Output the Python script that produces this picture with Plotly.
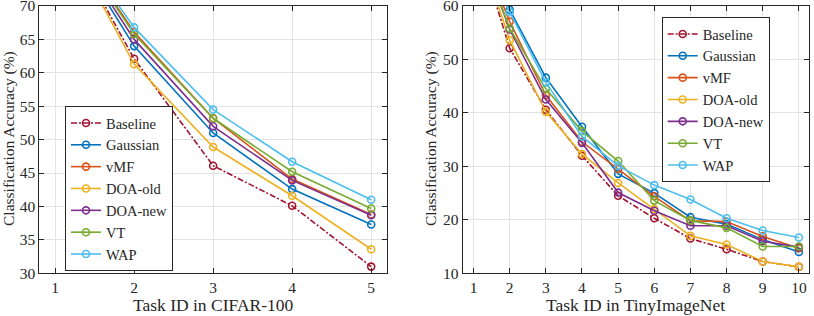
import plotly.graph_objects as go

# ---------------- data ----------------
methods = ["Baseline", "Gaussian", "vMF", "DOA-old", "DOA-new", "VT", "WAP"]
colors = ["#A2142F", "#0072BD", "#D95319", "#EDB120", "#7E2F8E", "#77AC30", "#4DBEEE"]

cifar_tasks = [1, 2, 3, 4, 5]
cifar_baseline = [83.5, 62.1, 46.1, 40.1, 31.0]
cifar_gaussian = [83.0, 64.0, 51.0, 42.6, 37.3]
cifar_vmf = [83.5, 66.1, 53.2, 44.1, 38.8]
cifar_doa_old = [83.3, 61.3, 48.9, 41.6, 33.6]
cifar_doa_new = [83.2, 65.0, 52.0, 43.9, 38.7]
cifar_vt = [83.5, 65.8, 53.2, 45.2, 39.7]
cifar_wap = [83.5, 66.8, 54.5, 46.7, 41.0]

tiny_tasks = [1, 2, 3, 4, 5, 6, 7, 8, 9, 10]
tiny_baseline = [74.0, 52.1, 40.6, 32.0, 24.5, 20.3, 16.5, 14.5, 12.2, 11.2]
tiny_gaussian = [74.0, 59.3, 46.6, 37.4, 28.6, 25.0, 20.5, 19.2, 16.3, 14.0]
tiny_vmf = [74.0, 57.1, 43.3, 34.6, 29.5, 24.4, 19.8, 19.7, 16.9, 14.7]
tiny_doa_old = [74.0, 53.6, 40.2, 32.3, 26.9, 22.0, 17.0, 15.4, 12.2, 11.2]
tiny_doa_new = [74.0, 55.6, 42.5, 34.4, 25.1, 21.7, 18.9, 18.9, 16.0, 14.9]
tiny_vt = [74.0, 55.8, 44.5, 36.6, 31.0, 23.6, 19.9, 18.5, 15.0, 15.0]
tiny_wap = [74.0, 58.9, 45.7, 35.6, 30.1, 26.5, 23.8, 20.3, 18.0, 16.7]

cifar_series = [cifar_baseline, cifar_gaussian, cifar_vmf, cifar_doa_old,
                cifar_doa_new, cifar_vt, cifar_wap]
tiny_series = [tiny_baseline, tiny_gaussian, tiny_vmf, tiny_doa_old,
               tiny_doa_new, tiny_vt, tiny_wap]

FONT = "Liberation Serif"
INK = "#262626"
fig = go.Figure()

for i, name in enumerate(methods):
    dash = "6px,2px,2px,2px" if name == "Baseline" else "solid"
    fig.add_trace(go.Scatter(
        x=cifar_tasks, y=cifar_series[i], name=name, mode="lines+markers",
        line=dict(color=colors[i], width=1.6, dash=dash),
        marker=dict(symbol="circle-open", size=7, color=colors[i], line=dict(width=1.6)),
        xaxis="x", yaxis="y", legend="legend"))
for i, name in enumerate(methods):
    dash = "6px,2px,2px,2px" if name == "Baseline" else "solid"
    fig.add_trace(go.Scatter(
        x=tiny_tasks, y=tiny_series[i], name=name, mode="lines+markers",
        line=dict(color=colors[i], width=1.6, dash=dash),
        marker=dict(symbol="circle-open", size=7, color=colors[i], line=dict(width=1.6)),
        xaxis="x2", yaxis="y2", legend="legend2"))

W, H = 814, 316
ax_common = dict(
    showline=True, linecolor=INK, linewidth=1, mirror="allticks",
    ticks="inside", ticklen=5, tickcolor=INK, tickwidth=1,
    showgrid=True, gridcolor="#E3E3E3", gridwidth=1, zeroline=False,
    tickfont=dict(family=FONT, size=15.5, color=INK), automargin=False,
    ticklabeloverflow="allow",
)
y0 = (H - 273.3) / H
y1 = (H - 6) / H
leg_font = dict(family=FONT, size=14.5, color=INK)

fig.update_layout(
    width=W, height=H, margin=dict(l=0, r=0, t=0, b=0),
    paper_bgcolor="white", plot_bgcolor="white",
    font=dict(family=FONT, size=16, color=INK),
    xaxis=dict(domain=[39.3 / W, 387 / W], range=[0.8, 5.2], tickvals=cifar_tasks,
               anchor="y", **ax_common),
    yaxis=dict(domain=[y0, y1], range=[30, 70], tickvals=[30, 35, 40, 45, 50, 55, 60, 65, 70],
               anchor="x", **ax_common),
    xaxis2=dict(domain=[462.7 / W, 809 / W], range=[0.7, 10.28], tickvals=tiny_tasks,
                anchor="y2", **ax_common),
    yaxis2=dict(domain=[y0, y1], range=[10, 60], tickvals=[10, 20, 30, 40, 50, 60],
                anchor="x2", **ax_common),
    legend=dict(x=65 / W, y=(H - 106) / H, xanchor="left", yanchor="top",
                bgcolor="white", bordercolor=INK, borderwidth=1,
                font=leg_font, tracegroupgap=0, itemwidth=30),
    legend2=dict(x=661.7 / W, y=(H - 17) / H, xanchor="left", yanchor="top",
                 bgcolor="white", bordercolor=INK, borderwidth=1,
                 font=leg_font, tracegroupgap=0, itemwidth=30),
    showlegend=True,
)

xt_font = dict(family=FONT, size=17.5, color=INK)
yt_font = dict(family=FONT, size=15.5, color=INK)
fig.add_annotation(text="Task ID in CIFAR-100", x=(39.3 + 387) / 2 / W, y=(H - 305) / H,
                   xref="paper", yref="paper", showarrow=False, font=xt_font,
                   xanchor="center", yanchor="middle")
fig.add_annotation(text="Task ID in TinyImageNet", x=(462.7 + 809) / 2 / W, y=(H - 305) / H,
                   xref="paper", yref="paper", showarrow=False, font=xt_font,
                   xanchor="center", yanchor="middle")
fig.add_annotation(text="Classification Accuracy (%)", x=9 / W, y=(H - 139) / H,
                   xref="paper", yref="paper", showarrow=False, font=yt_font,
                   textangle=-90, xanchor="center", yanchor="middle")
fig.add_annotation(text="Classification Accuracy (%)", x=431 / W, y=(H - 139) / H,
                   xref="paper", yref="paper", showarrow=False, font=yt_font,
                   textangle=-90, xanchor="center", yanchor="middle")

fig.write_html("out.html", config={"displayModeBar": False},
               post_script="document.body.style.margin='0px';")
